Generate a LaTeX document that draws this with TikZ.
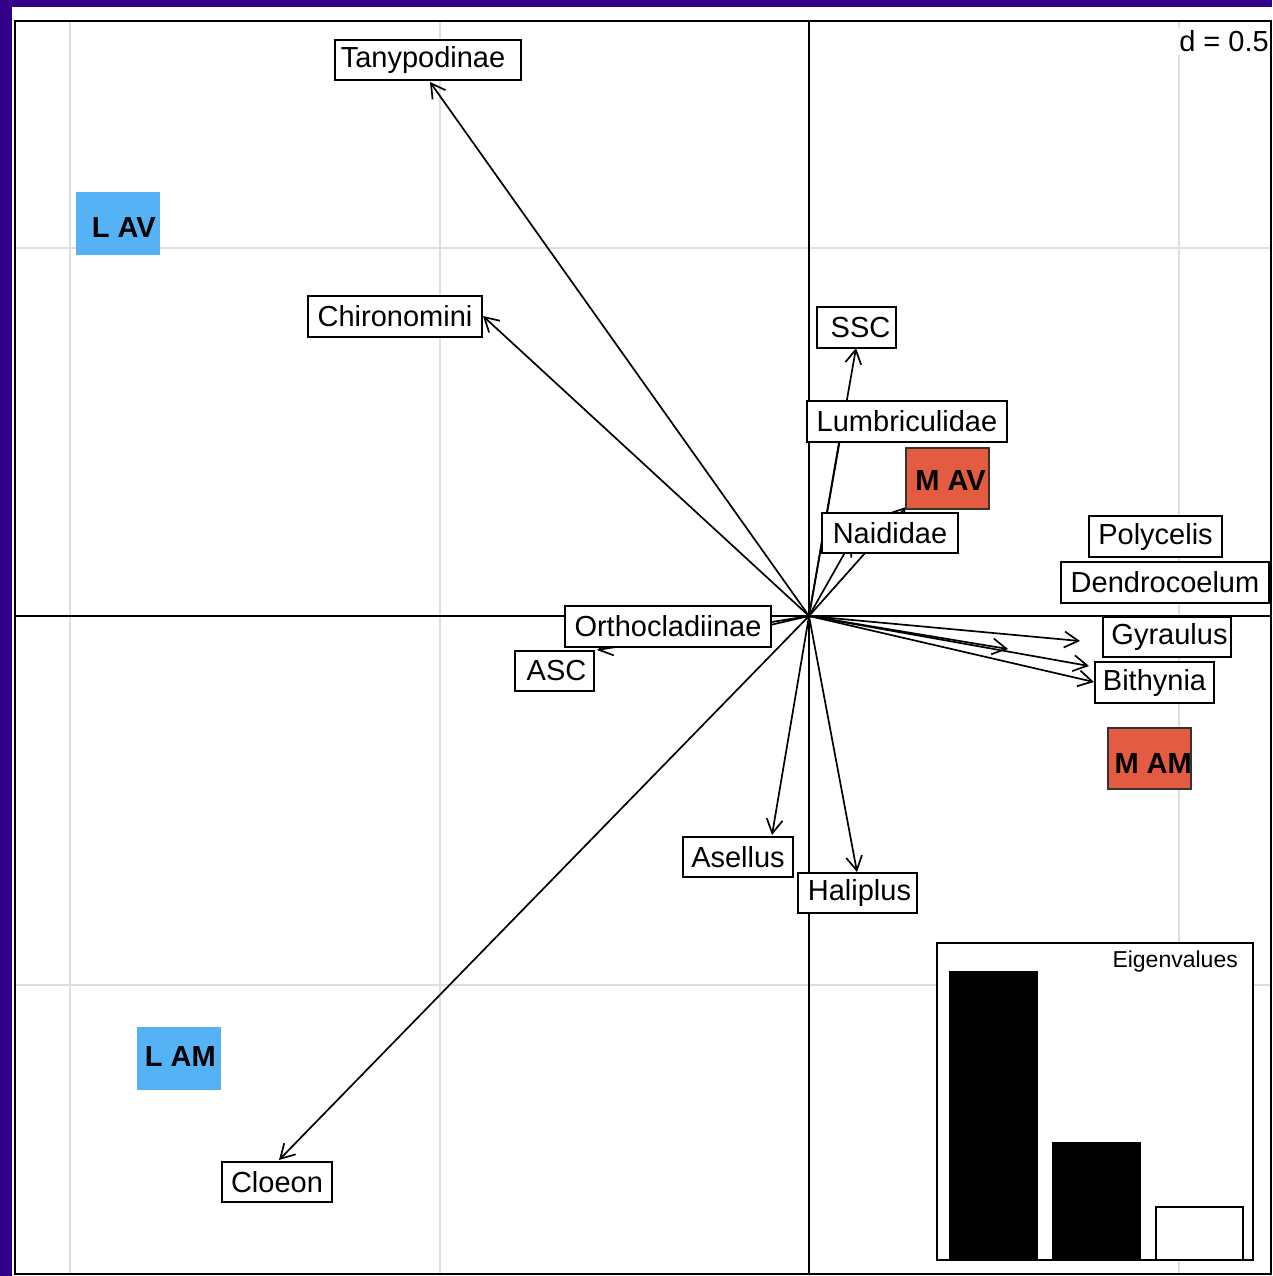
\documentclass[tikz,border=0pt]{standalone}
\usepackage{fontspec}
\setmainfont{Liberation Sans}
\usetikzlibrary{arrows.meta}
\definecolor{bgpurple}{RGB}{51,0,138}
\definecolor{gridgray}{RGB}{222,222,222}
\definecolor{lblue}{RGB}{84,178,245}
\definecolor{mred}{RGB}{227,91,64}
\newcommand\labfont{\fontsize{29}{34}\selectfont}
\newcommand\boldlabfont{\fontsize{29}{34}\selectfont\bfseries}
\newcommand\eigfont{\fontsize{23}{27}\selectfont}
\tikzset{
  gridln/.style={draw=gridgray, line width=2pt},
  axisln/.style={draw=black, line width=1.6pt},
  arr/.style={line width=1.7pt, -{Straight Barb[length=14pt,width=16pt]}},
  lab/.style={draw=black, fill=white, line width=1.8pt, inner sep=0pt, font=\labfont},
  grptxt/.style={inner sep=0pt, font=\boldlabfont},
}
\begin{document}
\begin{tikzpicture}[x=1pt,y=-1pt]
\useasboundingbox (0,0) rectangle (1272,1276);
% background
\fill[bgpurple] (0,0) rectangle (1272,1276);
\fill[white] (12,7) rectangle (1272,1276);
% grid
\draw[gridln] (70,21) -- (70,1274);
\draw[gridln] (440,21) -- (440,1274);
\draw[gridln] (1179,21) -- (1179,1274);
\draw[gridln] (15,248) -- (1271,248);
\draw[gridln] (15,985) -- (1271,985);
% axes
\draw[axisln] (809,21) -- (809,1274);
\draw[axisln] (15,616) -- (1271,616);
% origin and tips
\coordinate (o) at (809,616);
\coordinate (tTany) at (430,82);
\coordinate (tChir) at (483,316);
\coordinate (tSSC) at (856,348);
\coordinate (tLumb) at (842.7,421);
\coordinate (tNaidA) at (906,507);
\coordinate (tNaidB) at (852,540);
\coordinate (tOrth) at (740,632);
\coordinate (tASC) at (597,650);
\coordinate (tAsel) at (772,835);
\coordinate (tHali) at (857,872);
\coordinate (tCloe) at (279,1160);
\coordinate (tR1) at (1080,641);
\coordinate (tR2) at (1008,649);
\coordinate (tR3) at (1089,666);
\coordinate (tR4) at (1094,682);
\foreach \t in {tTany,tChir,tSSC,tLumb,tNaidA,tNaidB,tOrth,tASC,tAsel,tHali,tCloe,tR1,tR2,tR3,tR4}
  \draw[arr] (o) -- (\t);
% labels
\node[lab, minimum width=186pt, minimum height=40pt] (Tany) at (428,60) {Tanypodinae\kern10pt};
\node[lab, minimum width=174pt, minimum height=41pt] (Chir) at (395,316.5) {Chironomini};
\node[lab, minimum width=79pt, minimum height=41pt] (SSC) at (856.5,327.5) {\hspace{8pt}SSC};
\node[lab, minimum width=200pt, minimum height=41pt] (Lumb) at (907,421.5) {Lumbriculidae};
\node[lab, minimum width=136pt, minimum height=40pt] (Naid) at (890,533) {Naididae};
\node[lab, minimum width=133pt, minimum height=41pt] (Poly) at (1155.5,536.5) {Polycelis};
\node[lab, minimum width=208pt, minimum height=41pt] (Dend) at (1165,582.5) {Dendrocoelum};
\node[lab, minimum width=128pt, minimum height=40pt] (Gyra) at (1167,637) {\hspace{5pt}Gyraulus};
\node[lab, minimum width=119pt, minimum height=41pt] (Bith) at (1154.5,682.5) {Bithynia};
\node[lab, minimum width=206pt, minimum height=41pt] (Orth) at (668,626.5) {Orthocladiinae};
\node[lab, minimum width=79pt, minimum height=40pt] (ASC) at (554.5,671) {\hspace{4pt}ASC};
\node[lab, minimum width=110pt, minimum height=40pt] (Asel) at (738,857) {Asellus};
\node[lab, minimum width=119pt, minimum height=40pt] (Hali) at (857.5,893) {\hspace{4pt}Haliplus};
\node[lab, minimum width=110pt, minimum height=40pt] (Cloe) at (277,1182) {Cloeon};
% group boxes
\fill[lblue] (76,192) rectangle (160,255);
\node[grptxt, anchor=base east] (LAV) at (156,237) {L AV};
\fill[lblue] (137,1027) rectangle (221,1090);
\node[grptxt, anchor=base east] (LAM) at (216,1066) {L AM};
\filldraw[fill=mred, draw=black!80, line width=1.2pt] (906,448) rectangle (989,509);
\node[grptxt, anchor=base east] (MAV) at (986,490) {M AV};
\filldraw[fill=mred, draw=black!80, line width=1.2pt] (1108,728) rectangle (1191,789);
\node[grptxt, anchor=base east] (MAM) at (1192,773) {M AM};
% scale label
\node[fill=white, inner sep=3pt, anchor=base east, font=\labfont] (dscale) at (1272,52) {d = 0.5};
% eigenvalues inset
\filldraw[fill=white, draw=black, line width=1.6pt] (937,943) rectangle (1253,1260);
\node[inner sep=0pt, anchor=base east, font=\eigfont] (eig) at (1238,967) {Eigenvalues};
\filldraw[fill=black, draw=black, line width=1.4pt] (950,972) rectangle (1037,1260);
\filldraw[fill=black, draw=black, line width=1.4pt] (1053,1143) rectangle (1140,1260);
\filldraw[fill=white, draw=black, line width=1.4pt] (1156,1207) rectangle (1243,1260);
% frame
\draw[black, line width=2pt] (15,21) rectangle (1271,1274);
\end{tikzpicture}
\end{document}
